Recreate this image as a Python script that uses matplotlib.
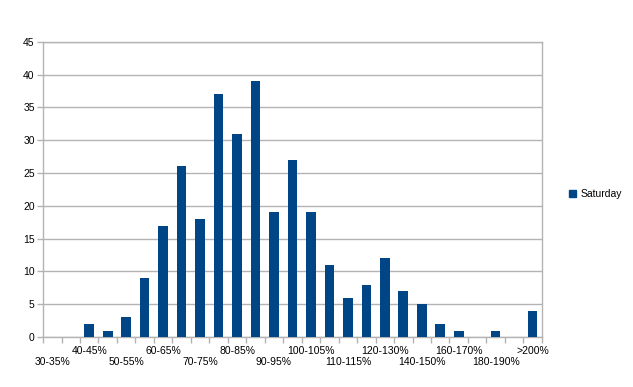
import matplotlib
matplotlib.use('Agg')
import matplotlib.pyplot as plt
from matplotlib.patches import Patch
import numpy as np

categories = ['30-35%', '35-40%', '40-45%', '45-50%', '50-55%', '55-60%',
              '60-65%', '65-70%', '70-75%', '75-80%', '80-85%', '85-90%',
              '90-95%', '95-100%', '100-105%', '105-110%', '110-115%',
              '115-120%', '120-130%', '130-140%', '140-150%', '150-160%',
              '160-170%', '170-180%', '180-190%', '190-200%', '>200%']
saturday = [0, 0, 2, 1, 3, 9, 17, 26, 18, 37, 31, 39, 19, 27, 19, 11, 6,
            8, 12, 7, 5, 2, 1, 0, 1, 0, 4]

plt.rcParams['font.family'] = 'Liberation Sans'
grey = '#b3b3b3'
blue = '#004586'

fig = plt.figure(figsize=(6.33, 3.87), dpi=100)
ax = fig.add_axes([0.068, 0.129, 0.788, 0.763])

x = np.arange(len(categories))
ax.bar(x, saturday, width=0.52, color=blue, zorder=3)

ax.set_xlim(-0.5, len(categories) - 0.5)
ax.set_ylim(0, 45)
ax.set_yticks(range(0, 46, 5))
ax.yaxis.grid(True, color=grey, linewidth=1, zorder=0)

# every other label, staggered in two rows
upper = x[2::4]
lower = x[0::4]
ax.set_xticks(upper)
ax.set_xticklabels([categories[i] for i in upper], fontsize=7.5)
ax.set_xticks(np.arange(len(categories) + 1) - 0.5, minor=True)
ax.tick_params(axis='x', which='major', length=0, pad=6.5)
ax.tick_params(axis='x', which='minor', length=4, color=grey, width=1)
ax.tick_params(axis='y', length=4, color=grey, width=1, labelsize=7.5, pad=2)

sec = ax.secondary_xaxis('bottom')
sec.set_xticks(lower)
sec.set_xticklabels([categories[i] for i in lower], fontsize=7.5)
sec.tick_params(axis='x', length=0, pad=14.5)
sec.spines['bottom'].set_visible(False)

for s in ax.spines.values():
    s.set_color(grey)
    s.set_linewidth(1)

ax.legend(handles=[Patch(color=blue, label='Saturday')], loc='center left',
          bbox_to_anchor=(1.035, 0.485), frameon=False, fontsize=7.5,
          handlelength=0.7, handleheight=0.7, handletextpad=0.4)

plt.savefig('out.png', dpi=100)
